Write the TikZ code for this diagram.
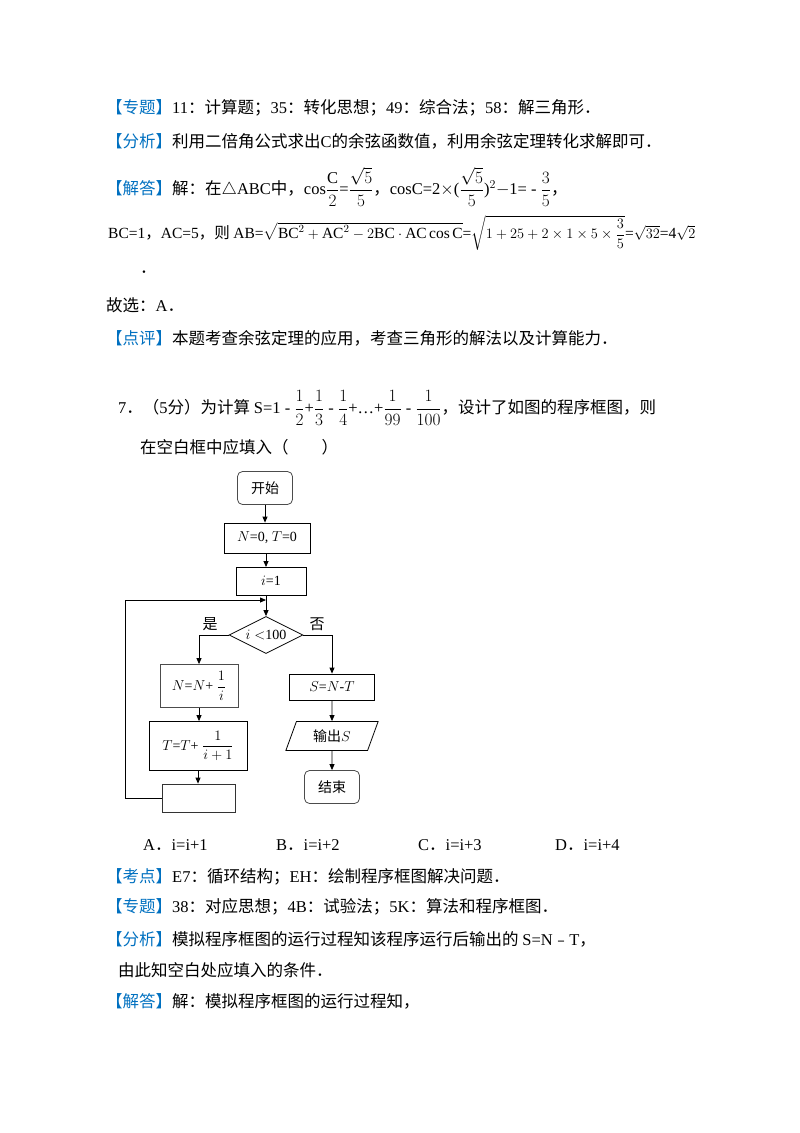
\documentclass[tikz,border=0pt]{standalone}
\usepackage{amsmath}
\usepackage{fontspec}
\setmainfont{Liberation Serif}
\newfontfamily\zh{Noto Sans CJK SC}
\usetikzlibrary{shapes.geometric,arrows.meta}
\definecolor{tag}{RGB}{0,112,192}
\newcommand{\tg}[1]{{\zh\color{tag}【#1】}}
\begin{document}
\begin{tikzpicture}[x=1pt,y=-1pt,
  txt/.style={anchor=west,inner sep=0pt,font=\fontsize{16.5}{19}\selectfont},
  box/.style={draw,thick,minimum height=28pt,inner sep=2pt,font=\fontsize{14}{16}\selectfont},
  rbox/.style={box,rounded corners=5pt,draw=black!70},
  arr/.style={-{Triangle[length=6pt,width=5pt]},thick},
  ln/.style={thick}]
\useasboundingbox (0,0) rectangle (800,1133);
\node[txt] (l1) at (106,108) {\tg{专题}11{\zh：计算题；}35{\zh：转化思想；}49{\zh：综合法；}58{\zh：解三角形．}};
\node[txt] (l2) at (106,141) {\tg{分析}{\zh 利用二倍角公式求出}C{\zh 的余弦函数值，利用余弦定理转化求解即可．}};
\node[txt] (l3) at (106,187) {\tg{解答}{\zh 解：在}$\triangle$ABC{\zh 中，}cos$\dfrac{\mathrm{C}}{2}$=$\dfrac{\sqrt5}{5}${\zh ，}cosC=2$\times$($\dfrac{\sqrt5}{5}$)$^{2}$$-$1= - $\dfrac{3}{5}${\zh ，}};
\node[txt,font=\fontsize{15.5}{18}\selectfont] (l4) at (108,233) {BC=1{\zh ，}AC=5{\zh ，则 }AB=$\sqrt{\mathrm{BC}^2+\mathrm{AC}^2-2\mathrm{BC}\cdot\mathrm{AC}\cos\mathrm{C}}$=$\sqrt{1+25+2\times1\times5\times\dfrac{3}{5}}$=$\sqrt{32}$=4$\sqrt2$};
\node[txt] (l5) at (140,272) {{\zh ．}};
\node[txt] (l6) at (106,305) {{\zh 故选：}A{\zh ．}};
\node[txt] (l7) at (106,338) {\tg{点评}{\zh 本题考查余弦定理的应用，考查三角形的解法以及计算能力．}};
\node[txt] (q) at (118,408) {7{\zh ．（}5{\zh 分）为计算 }S=1 - $\dfrac{1}{2}$+$\dfrac{1}{3}$ - $\dfrac{1}{4}$+…+$\dfrac{1}{99}$ - $\dfrac{1}{100}${\zh ，设计了如图的程序框图，则}};
\node[txt] (q2) at (140,447) {{\zh 在空白框中应填入（　　）}};
% flowchart
\node[rbox,minimum width=55pt,minimum height=33pt] (start) at (265,488) {\zh 开始};
\node[box,minimum width=86pt,minimum height=30pt] (init) at (267,538) {$N$=0, $T$=0};
\node[box,minimum width=70pt] (i1) at (271,581) {$i$=1};
\coordinate (j) at (266,600);
\node[diamond,draw,thick,aspect=2,minimum width=74pt,minimum height=37pt,inner sep=0pt,font=\fontsize{14}{16}\selectfont] (d) at (266,635) {$i<$100};
\node[font=\zh\fontsize{15}{17}\selectfont] (yes) at (210,624) {是};
\node[font=\zh\fontsize{15}{17}\selectfont] (no) at (317,624) {否};
\node[box,draw=black!70,minimum width=78pt,minimum height=43pt] (bN) at (199,686) {$N$=$N$+ $\dfrac{1}{i}$};
\node[box,minimum width=98pt,minimum height=49pt] (bT) at (198,746) {$T$=$T$+ $\dfrac{1}{i+1}$};
\node[box,draw=black!80,minimum width=73pt,minimum height=28pt] (blank) at (199,798) {};
\node[box,minimum width=85pt,minimum height=26pt] (bS) at (332,687) {$S$=$N$-$T$};
\node[trapezium,trapezium left angle=70,trapezium right angle=110,draw,thick,minimum width=85pt,minimum height=29pt,inner sep=2pt,font=\fontsize{14}{16}\selectfont] (out) at (332,736) {{\zh 输出}$S$};
\node[rbox,minimum width=55pt,minimum height=33pt] (end) at (332,787) {\zh 结束};
\draw[arr] (start) -- (start|-init.north);
\draw[arr] (266,553) -- (266,567);
\draw[ln] (266,595) -- (j);
\draw[arr] (j) -- (d.north);
\draw[arr] (d.west) -| (bN.north);
\draw[arr] (d.east) -| (bS.north);
\draw[arr] (bN.south) -- (bN.south|-bT.north);
\draw[arr] (bT.south) -- (bT.south|-blank.north);
\draw[arr] (blank.west) -- (125,798) -- (125,600) -- (j);
\draw[arr] (bS.south) -- (out.north);
\draw[arr] (out.south) -- (end.north);
% options
\node[txt] (oA) at (143,845) {A{\zh ．}i=i+1};
\node[txt] (oB) at (276,845) {B{\zh ．}i=i+2};
\node[txt] (oC) at (418,845) {C{\zh ．}i=i+3};
\node[txt] (oD) at (555,845) {D{\zh ．}i=i+4};
\node[txt] (k1) at (106,877) {\tg{考点}E7{\zh ：循环结构；}EH{\zh ：绘制程序框图解决问题．}};
\node[txt] (k2) at (106,907) {\tg{专题}38{\zh ：对应思想；}4B{\zh ：试验法；}5K{\zh ：算法和程序框图．}};
\node[txt] (k3) at (106,939) {\tg{分析}{\zh 模拟程序框图的运行过程知该程序运行后输出的 }S=N{\zh ﹣}T{\zh ，}};
\node[txt] (k4) at (118,970) {{\zh 由此知空白处应填入的条件．}};
\node[txt] (k5) at (106,1001) {\tg{解答}{\zh 解：模拟程序框图的运行过程知，}};
\end{tikzpicture}
\end{document}
